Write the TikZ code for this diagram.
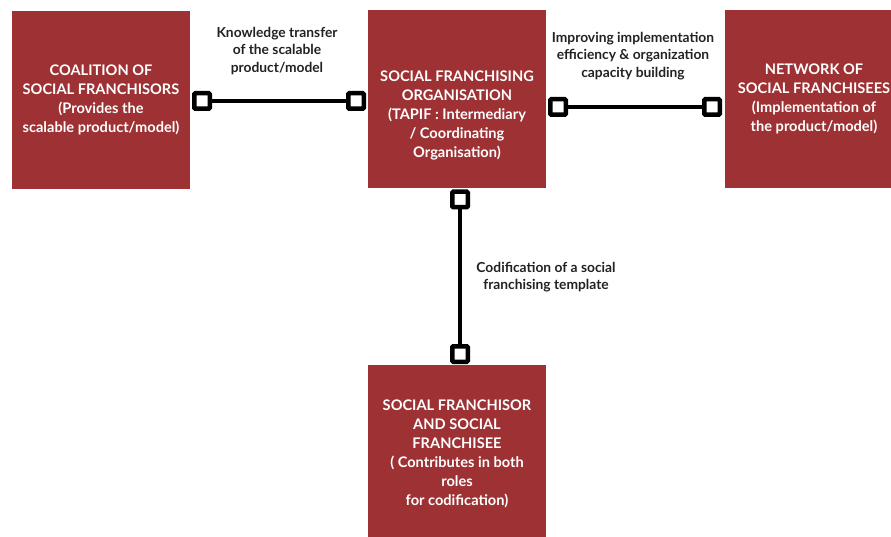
\documentclass[tikz,border=0pt]{standalone}
\usepackage{fontspec}
\setmainfont{Lato}
\definecolor{boxred}{HTML}{9E3133}
\definecolor{inkdark}{HTML}{222222}
\begin{document}
\begin{tikzpicture}[
    x=1pt, y=1pt,
    actor/.style={rectangle, fill=boxred, text=white, minimum width=178pt, minimum height=178pt, inner sep=0pt},
    actortext/.style={text=white, align=center, font=\fontsize{14.6}{19.1}\selectfont\bfseries},
    port/.style={rectangle, draw=black, fill=white, line width=4.5pt, rounded corners=1pt, minimum size=15.5pt, inner sep=0pt},
    flow/.style={align=center, text=inkdark, font=\fontsize{13.8}{17.5}\selectfont\bfseries},
    link/.style={black, line width=4.5pt}
]
\useasboundingbox (0,0) rectangle (891,-537);

% Actors
\node[actor, actortext] (coalition) at (101,-100) {COALITION OF\\SOCIAL FRANCHISORS\\(Provides the\\scalable product/model)};
\node[actor] (tapif) at (457,-99) {};
\node[actortext] (tapiftext) at (457,-115.5) {SOCIAL FRANCHISING\\ORGANISATION\\(TAPIF : Intermediary\\/ Coordinating\\Organisation)};
\node[actor, actortext] (network) at (814,-99) {NETWORK OF\\SOCIAL FRANCHISEES\\(Implementation of\\the product/model)};
\node[actor, actortext] (both) at (457,-454) {SOCIAL FRANCHISOR\\AND SOCIAL\\FRANCHISEE\\( Contributes in both\\roles\\for codification)};

% Connector ends
\node[port] (kt1) at (202,-101) {};
\node[port] (kt2) at (356,-101) {};
\node[port] (ie1) at (558,-107) {};
\node[port] (ie2) at (712,-107) {};
\node[port] (cd1) at (460,-199.5) {};
\node[port] (cd2) at (460,-354) {};

% Connectors
\draw[link] (kt1) -- (kt2);
\draw[link] (ie1) -- (ie2);
\draw[link] (cd1) -- (cd2);

% Flow labels
\node[flow] (ktlabel) at (277,-51) {Knowledge transfer\\of the scalable\\product/model};
\node[flow] (ielabel) at (633,-56) {Improving implementation\\efficiency \& organization\\capacity building};
\node[flow] (cdlabel) at (546,-277) {Codification of a social\\franchising template};

\end{tikzpicture}
\end{document}
